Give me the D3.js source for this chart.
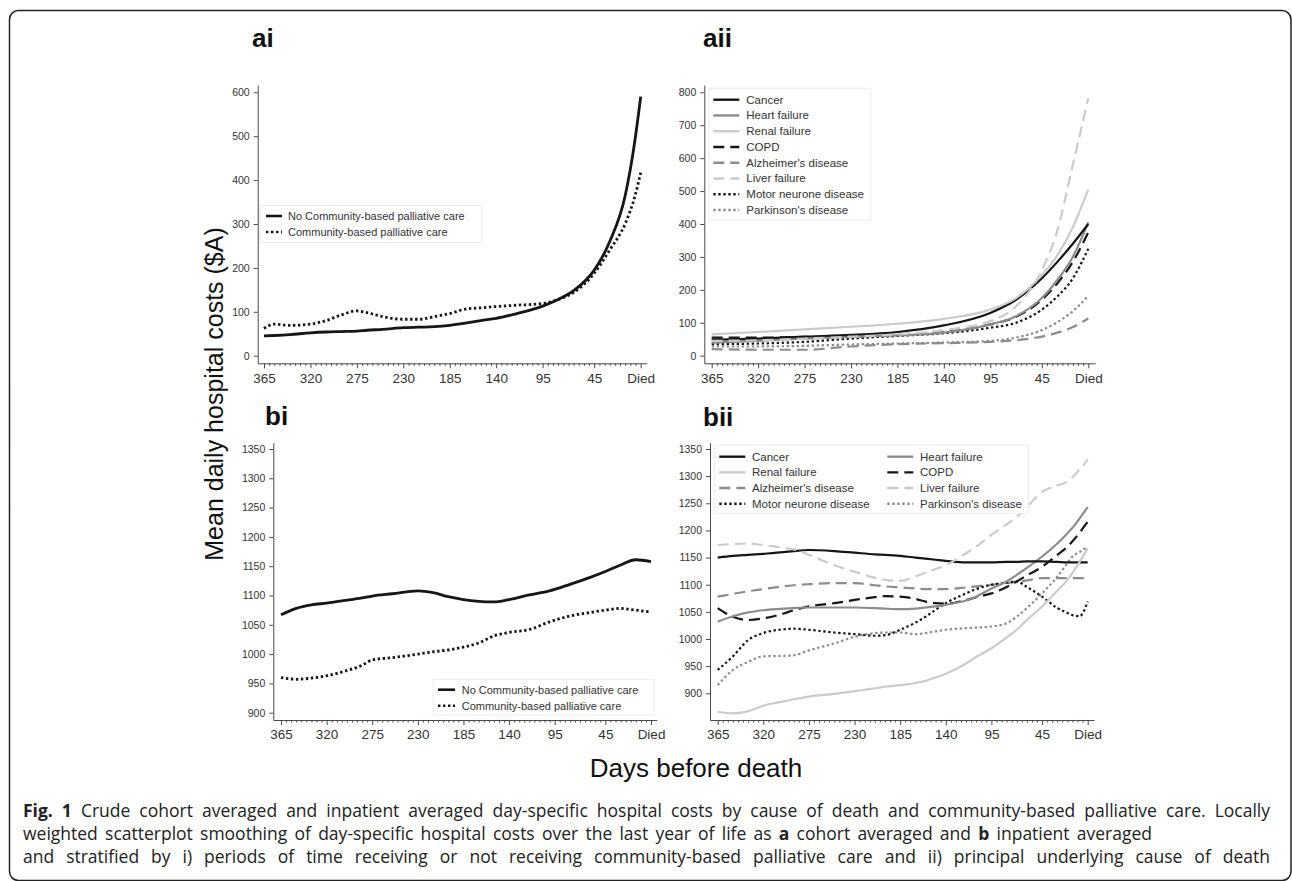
<!DOCTYPE html>
<html lang='en'>

<head>
   <meta charset='UTF-8'>
   <style>
      body {
         margin: 0;
         background: white;
      }

      svg {
         display: block;
         font-family: 'Liberation Sans', Arial, sans-serif;
      }

      .axis path,
      .axis line {
         stroke: #4a4a4a;
      }

      .axis text {
         fill: #333;
      }
   </style>
   <script src="https://cdnjs.cloudflare.com/ajax/libs/d3/7.8.5/d3.min.js"></script>
   <title>Hospital costs</title>
</head>

<body>
   <svg id='chart'></svg>

   <script>
      'use strict'

      // ---- data ----
      const xTicks = [365, 320, 275, 230, 185, 140, 95, 45, 0]

      const aiDays = [365, 355, 340, 320, 305, 290, 275, 265, 250, 230, 215, 200, 185, 170, 155, 140, 120, 95, 80, 65, 45, 30, 15, 6, 0]
      const aiNoCbpc = [45, 46, 48, 52, 54, 55, 56, 58, 60, 64, 65, 66, 69, 74, 80, 85, 96, 113, 128, 148, 195, 260, 365, 484, 590]
      const aiCbpc = [62, 72, 69, 72, 80, 93, 102, 98, 89, 83, 83, 89, 96, 106, 109, 112, 115, 119, 128, 144, 188, 241, 301, 360, 417]

      const biDays = [365, 350, 335, 320, 300, 285, 275, 255, 230, 215, 200, 185, 170, 155, 140, 120, 100, 80, 60, 45, 30, 15, 0]
      const biNoCbpc = [1067, 1078, 1084, 1087, 1092, 1096, 1099, 1103, 1108, 1105, 1098, 1093, 1090, 1089, 1093, 1101, 1108, 1119, 1131, 1141, 1152, 1161, 1158]
      const biCbpc = [960, 957, 959, 963, 972, 981, 990, 994, 1000, 1004, 1007, 1012, 1019, 1031, 1037, 1042, 1055, 1065, 1071, 1075, 1078, 1075, 1072]

      const causes = ['Cancer', 'Heart failure', 'Renal failure', 'COPD',
         "Alzheimer's disease", 'Liver failure', 'Motor neurone disease', "Parkinson's disease"]

      const aiiDays = [365, 320, 275, 230, 185, 140, 95, 70, 45, 30, 15, 0]
      const aiiCancer = [48, 52, 58, 63, 72, 92, 130, 170, 235, 285, 340, 400]
      const aiiHeart = [40, 45, 52, 57, 62, 70, 95, 120, 175, 230, 300, 405]
      const aiiRenal = [65, 72, 80, 88, 97, 112, 140, 175, 245, 305, 390, 505]
      const aiiCopd = [55, 55, 57, 60, 65, 72, 95, 118, 170, 220, 285, 375]
      const aiiAlzheimer = [20, 18, 18, 28, 35, 38, 42, 47, 58, 70, 87, 113]
      const aiiLiver = [45, 47, 52, 58, 65, 78, 105, 150, 260, 380, 580, 782]
      const aiiMotor = [35, 37, 42, 52, 60, 68, 85, 100, 140, 180, 235, 325]
      const aiiParkinson = [28, 28, 30, 34, 37, 40, 45, 55, 78, 102, 135, 182]

      const biiDays = [365, 350, 335, 320, 300, 290, 275, 250, 230, 210, 200, 185, 170, 160, 150, 140, 120, 110, 95, 80, 70, 60, 45, 30, 20, 15, 8, 0]
      const biiCancer = [1150, 1153, 1155, 1157, 1160, 1162, 1164, 1162, 1159, 1156, 1155, 1153, 1150, 1148, 1146, 1144, 1141, 1141, 1141, 1142, 1142, 1143, 1143, 1142, 1141, 1141, 1141, 1141]
      const biiHeart = [1032, 1042, 1049, 1053, 1056, 1057, 1058, 1058, 1058, 1057, 1056, 1055, 1056, 1058, 1060, 1063, 1071, 1078, 1093, 1106, 1118, 1131, 1152, 1176, 1195, 1205, 1222, 1243]
      const biiRenal = [866, 863, 867, 877, 885, 889, 894, 899, 904, 909, 912, 915, 919, 923, 929, 936, 955, 967, 983, 1003, 1017, 1035, 1060, 1089, 1109, 1122, 1142, 1167]
      const biiCopd = [1057, 1041, 1035, 1038, 1047, 1053, 1060, 1066, 1072, 1077, 1079, 1078, 1074, 1069, 1066, 1065, 1072, 1077, 1084, 1096, 1106, 1117, 1133, 1155, 1170, 1180, 1196, 1216]
      const biiAlzheimer = [1078, 1083, 1088, 1092, 1097, 1099, 1101, 1103, 1103, 1099, 1097, 1095, 1093, 1092, 1092, 1092, 1095, 1097, 1100, 1103, 1105, 1108, 1112, 1112, 1112, 1112, 1112, 1112]
      const biiLiver = [1173, 1175, 1176, 1173, 1168, 1165, 1155, 1136, 1124, 1113, 1109, 1107, 1115, 1122, 1129, 1136, 1158, 1170, 1192, 1211, 1225, 1243, 1271, 1283, 1290, 1298, 1312, 1331]
      const biiMotor = [943, 968, 998, 1011, 1018, 1019, 1017, 1012, 1009, 1006, 1007, 1017, 1030, 1041, 1054, 1066, 1084, 1092, 1100, 1104, 1106, 1096, 1078, 1057, 1048, 1044, 1042, 1069]
      const biiParkinson = [915, 943, 958, 968, 969, 970, 979, 992, 1004, 1011, 1012, 1012, 1009, 1011, 1014, 1017, 1020, 1021, 1023, 1029, 1041, 1057, 1084, 1115, 1140, 1152, 1160, 1170]

      const aYTicks = [0, 100, 200, 300, 400, 500, 600]
      const aiiYTicks = [0, 100, 200, 300, 400, 500, 600, 700, 800]
      const bYTicks = [900, 950, 1000, 1050, 1100, 1150, 1200, 1250, 1300, 1350]

      const cbpcLabels = ['No Community-based palliative care', 'Community-based palliative care']

      // ---- styles ----
      const BLACK = '#161616', GREY = '#8c8c8c', LIGHT = '#cbcbcb'
      const DASH = '11,6', DOT = '2.4,2.6'
      const causeStyle = [
         { c: BLACK, d: null }, { c: GREY, d: null }, { c: LIGHT, d: null },
         { c: BLACK, d: DASH }, { c: GREY, d: DASH }, { c: LIGHT, d: DASH },
         { c: BLACK, d: DOT }, { c: GREY, d: DOT }]

      const svg = d3.select('#chart').attr('width', 1292).attr('height', 881)

      // outer frame
      svg.append('rect')
         .attr('x', 9.5).attr('y', 10.5)
         .attr('width', 1281.5).attr('height', 870)
         .attr('rx', 9)
         .attr('fill', 'none').attr('stroke', '#222').attr('stroke-width', 1.5)

      function makePanel(p) {
         const x = d3.scaleLinear().domain([365, 0]).range(p.xPix)
         x.domain([x.invert(p.left), x.invert(p.right)]).range([p.left, p.right])
         const y = d3.scaleLinear().domain(p.yVals).range(p.yPix)
         y.domain([y.invert(p.bottom), y.invert(p.top)]).range([p.bottom, p.top])

         const minor = d3.range(5, 365, 5).filter(d => !xTicks.includes(d))
         svg.append('g').attr('class', 'axis')
            .attr('transform', `translate(0,${p.bottom})`)
            .call(d3.axisBottom(x).tickValues(minor).tickSize(2.5).tickFormat(''))
            .call(g => g.select('.domain').remove())

         svg.append('g').attr('class', 'axis')
            .attr('transform', `translate(0,${p.bottom})`)
            .call(d3.axisBottom(x).tickValues(xTicks).tickSize(5).tickSizeOuter(0)
               .tickFormat(d => d === 0 ? 'Died' : d))
            .call(g => g.selectAll('text').attr('dy', null).attr('y', p.xLabelY)
               .attr('font-size', 13.5).attr('font-family', 'Liberation Sans, Arial, sans-serif'))

         svg.append('g').attr('class', 'axis')
            .attr('transform', `translate(${p.left},0)`)
            .call(d3.axisLeft(y).tickValues(p.yTicks).tickSize(4).tickPadding(4)
               .tickSizeOuter(0).tickFormat(d3.format('d')))
            .call(g => g.selectAll('text').attr('font-size', 10.5)
               .attr('font-family', 'Liberation Sans, Arial, sans-serif'))

         return { x, y }
      }

      function drawLine(sc, days, vals, color, dash, width) {
         const line = d3.line()
            .x((d, i) => sc.x(days[i]))
            .y(d => sc.y(d))
            .curve(d3.curveMonotoneX)
         svg.append('path')
            .datum(vals)
            .attr('d', line)
            .attr('fill', 'none')
            .attr('stroke', color)
            .attr('stroke-width', width)
            .attr('stroke-dasharray', dash)
      }

      function legend(box, items, width) {
         svg.append('rect')
            .attr('x', box.x).attr('y', box.y)
            .attr('width', box.w).attr('height', box.h)
            .attr('fill', 'white').attr('stroke', '#ececec')
         items.forEach(it => {
            svg.append('line')
               .attr('x1', it.x).attr('x2', it.x + it.len)
               .attr('y1', it.y).attr('y2', it.y)
               .attr('stroke', it.c).attr('stroke-width', width)
               .attr('stroke-dasharray', it.d)
            svg.append('text')
               .attr('x', it.x + it.len + it.gap).attr('y', it.y + 4)
               .attr('font-size', it.fs).attr('fill', '#333')
               .text(it.label)
         })
      }

      function title(txt, x, y) {
         svg.append('text').attr('x', x).attr('y', y)
            .attr('font-size', 26).attr('font-weight', 'bold').attr('fill', '#111')
            .text(txt)
      }

      // ---- ai ----
      const ai = makePanel({
         left: 257.7, right: 646.7, top: 85, bottom: 363.3,
         xPix: [264, 640.7], yVals: [0, 600], yPix: [355.7, 92.3],
         yTicks: aYTicks, xLabelY: 19.5
      })
      legend({ x: 260, y: 205.7, w: 221.7, h: 36.6 }, [
         { label: cbpcLabels[0], x: 266, len: 16, gap: 6, y: 216, c: BLACK, d: null, fs: 11 },
         { label: cbpcLabels[1], x: 266, len: 16, gap: 6, y: 232, c: BLACK, d: DOT, fs: 11 }], 2.6)
      drawLine(ai, aiDays, aiNoCbpc, BLACK, null, 2.8)
      drawLine(ai, aiDays, aiCbpc, BLACK, DOT, 2.8)
      title('ai', 252, 47)

      // ---- aii ----
      const aii = makePanel({
         left: 704.3, right: 1095, top: 85, bottom: 363.3,
         xPix: [711.7, 1088.3], yVals: [0, 800], yPix: [355.7, 92.3],
         yTicks: aiiYTicks, xLabelY: 19.5
      })
      const aiiSeries = [aiiCancer, aiiHeart, aiiRenal, aiiCopd, aiiAlzheimer, aiiLiver, aiiMotor, aiiParkinson]
      const drawOrder = [4, 7, 6, 3, 1, 0, 2, 5]
      drawOrder.forEach(i => drawLine(aii, aiiDays, aiiSeries[i], causeStyle[i].c, causeStyle[i].d, 2.2))
      legend({ x: 709, y: 88.3, w: 161.7, h: 131.7 }, causes.map((c, i) => ({
         label: c, x: 713.3, len: 26, gap: 7, y: 99.7 + i * 15.75,
         c: causeStyle[i].c, d: causeStyle[i].d, fs: 11.5
      })), 2.4)
      title('aii', 703, 47)

      // ---- bi ----
      const bi = makePanel({
         left: 273.3, right: 656.7, top: 442.7, bottom: 720,
         xPix: [281, 651], yVals: [900, 1350], yPix: [712.7, 449],
         yTicks: bYTicks, xLabelY: 18.5
      })
      drawLine(bi, biDays, biNoCbpc, BLACK, null, 2.8)
      drawLine(bi, biDays, biCbpc, BLACK, DOT, 2.8)
      legend({ x: 433.3, y: 679.3, w: 220.7, h: 35.7 }, [
         { label: cbpcLabels[0], x: 438, len: 17, gap: 6.7, y: 689.7, c: BLACK, d: null, fs: 11 },
         { label: cbpcLabels[1], x: 438, len: 17, gap: 6.7, y: 705.7, c: BLACK, d: DOT, fs: 11 }], 2.6)
      title('bi', 265, 425)

      // ---- bii ----
      const bii = makePanel({
         left: 710, right: 1094, top: 442.7, bottom: 720,
         xPix: [717.7, 1087.7], yVals: [900, 1350], yPix: [693.3, 449],
         yTicks: bYTicks, xLabelY: 18.5
      })
      const biiSeries = [biiCancer, biiHeart, biiRenal, biiCopd, biiAlzheimer, biiLiver, biiMotor, biiParkinson]
      drawOrder.forEach(i => drawLine(bii, biiDays, biiSeries[i], causeStyle[i].c, causeStyle[i].d, 2.2))
      legend({ x: 714.3, y: 445, w: 314, h: 68.3 }, causes.map((c, i) => ({
         label: c, x: i % 2 === 0 ? 719.3 : 887.3, len: 26, gap: 6.7,
         y: 456.7 + Math.floor(i / 2) * 15.67,
         c: causeStyle[i].c, d: causeStyle[i].d, fs: 11.5
      })), 2.4)
      title('bii', 703, 426)

      // ---- shared axis titles ----
      svg.append('text')
         .attr('transform', 'translate(223,394) rotate(-90)')
         .attr('text-anchor', 'middle').attr('font-size', 25).attr('fill', '#111')
         .text('Mean daily hospital costs ($A)')

      svg.append('text')
         .attr('x', 696).attr('y', 777)
         .attr('text-anchor', 'middle').attr('font-size', 26).attr('fill', '#111')
         .text('Days before death')

      // ---- caption, justified with word spacing ----
      const cap = svg.append('g')
         .attr('font-family', "'Open Sans', 'Noto Sans', sans-serif")
         .attr('font-size', 17.5).attr('fill', '#222')

      const captionLines = [
         { y: 817, width: 1247, parts: [['Fig. 1', true], [' Crude cohort averaged and inpatient averaged day-specific hospital costs by cause of death and community-based palliative care. Locally', false]] },
         { y: 840, width: 1129, parts: [['weighted scatterplot smoothing of day-specific hospital costs over the last year of life as ', false], ['a', true], [' cohort averaged and ', false], ['b', true], [' inpatient averaged', false]] },
         { y: 863, width: 1247, parts: [['and stratified by i) periods of time receiving or not receiving community-based palliative care and ii) principal underlying cause of death', false]] }]

      captionLines.forEach(l => {
         const t = cap.append('text').attr('x', 23).attr('y', l.y)
         l.parts.forEach(p => t.append('tspan').attr('font-weight', p[1] ? 'bold' : null).text(p[0]))
         const natural = t.node().getComputedTextLength()
         const spaces = l.parts.map(p => p[0]).join('').split(' ').length - 1
         t.attr('word-spacing', (l.width - natural) / spaces)
      })
   </script>
</body>

</html>
